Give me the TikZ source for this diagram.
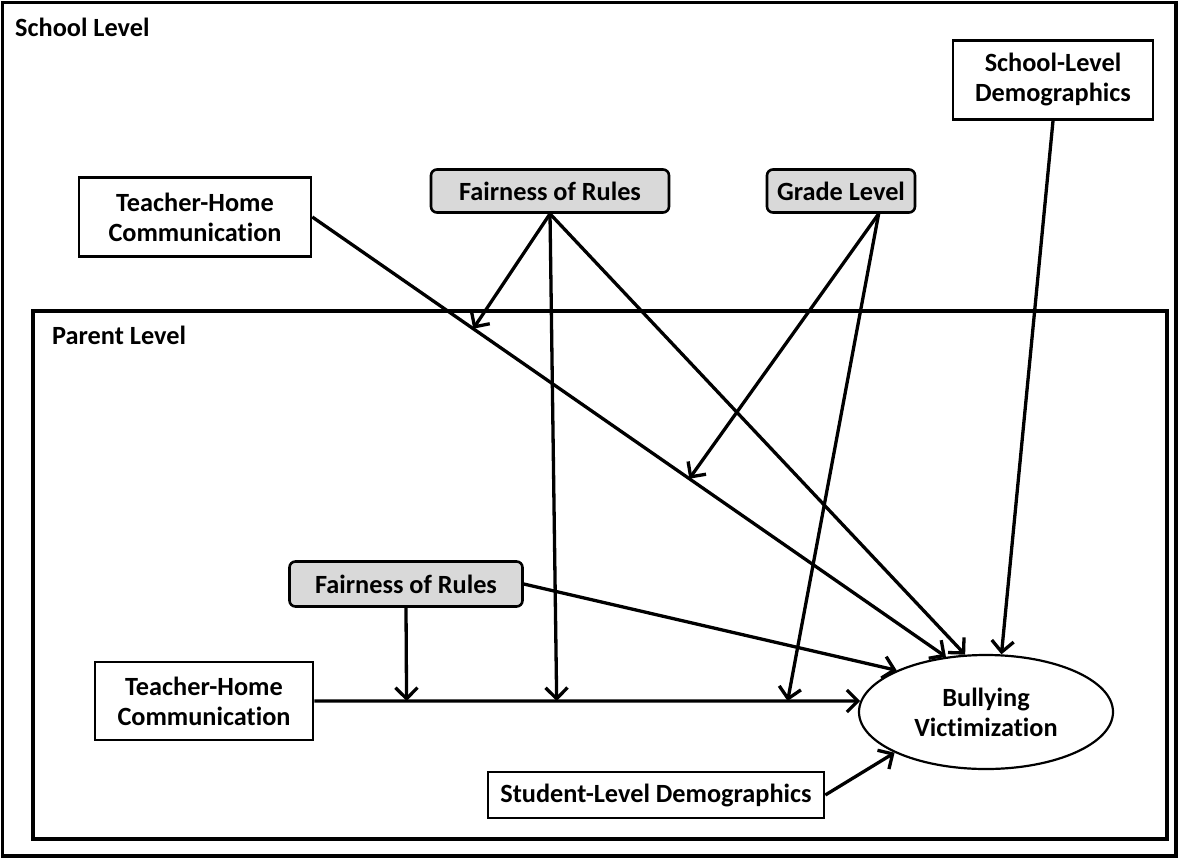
\documentclass[tikz,border=0pt]{standalone}
\usepackage{fontspec}
\setmainfont{Carlito}[Ligatures={NoCommon,NoContextual}]
\usetikzlibrary{shapes.geometric,arrows.meta,calc}
\definecolor{boxgray}{RGB}{217,217,217}
\begin{document}
\begin{tikzpicture}[x=1pt,y=-1pt,
  every node/.style={font=\bfseries\fontsize{26.3}{30}\selectfont},
  box/.style={draw, line width=2.6pt, inner sep=0pt, align=center},
  gbox/.style={box, fill=boxgray, rounded corners=6pt},
  arr/.style={line width=3.3pt, -{Straight Barb[length=11pt,width=22pt]}},
  frame/.style={line width=3.2pt},
  lbl/.style={anchor=west, inner sep=0pt}]
\useasboundingbox (0,0) rectangle (1180,859);
% frames
\draw[frame] (2.5,2.5) rectangle (1176,856);
\draw[line width=4.2pt] (33,311) rectangle (1167,839);
\node[lbl] (school) at (15,27) {School Level};
\node[lbl] (parent) at (52,335) {Parent Level};
% nodes
\node[box, minimum width=232pt, minimum height=79pt] (thA) at (195,217) {Teacher-Home\\Communication};
\node[box, minimum width=200pt, minimum height=79pt] (sd) at (1053,80) {School-Level\\Demographics};
\node[gbox, minimum width=238pt, minimum height=43pt] (fr1) at (550,191) {Fairness of Rules};
\node[gbox, minimum width=148pt, minimum height=43pt] (gl) at (841,191) {Grade Level};
\node[gbox, minimum width=233pt, minimum height=45pt] (fr2) at (406,584) {Fairness of Rules};
\node[box, minimum width=218pt, minimum height=78pt] (thB) at (204,701) {Teacher-Home\\Communication};
\node[box, minimum width=336pt, minimum height=46pt] (sl) at (656,795) {Student-Level Demographics};
\node[ellipse, draw, line width=2.2pt, minimum width=254pt, minimum height=114pt, inner sep=0pt, align=center] (bv) at (986,712) {Bullying\\Victimization};
% helper coordinates
\coordinate (glo) at ($(gl.south)!0.5!(gl.south east)$);
\coordinate (m1) at ($(thA.east)!0.254!(bv.126)$);
\coordinate (m2) at ($(thA.east)!0.595!(bv.126)$);
\coordinate (m3) at ($(thB.east)!0.444!(bv.175)$);
\coordinate (m4) at ($(thB.east)!0.169!(bv.175)$);
\coordinate (m5) at ($(thB.east)!0.867!(bv.175)$);
% connectors
\draw[arr] (thA.east) -- (bv.126);
\draw[arr] (fr1.south) -- (m1);
\draw[arr] (fr1.south) -- (m3);
\draw[arr] (fr1.south) -- (bv.110);
\draw[arr] (glo) -- (m2);
\draw[arr] (glo) -- (m5);
\draw[arr] (sd.south) -- (bv.75);
\draw[arr] (fr2.east) -- (bv.155);
\draw[arr] (fr2.south) -- (m4);
\draw[arr] (thB.east) -- (bv.175);
\draw[arr] (sl.east) -- (bv.204);
\end{tikzpicture}
\end{document}
